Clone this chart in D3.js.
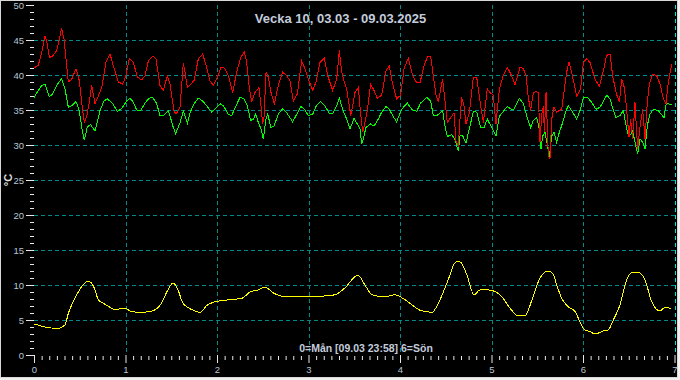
<!DOCTYPE html>
<html><head><meta charset="utf-8">
<script src="https://cdn.jsdelivr.net/npm/d3@7"></script>
<style>
html,body{margin:0;padding:0;background:#f0f0f0;}
svg{display:block;}
text{font-family:"Liberation Sans",Arial,sans-serif;}
</style></head>
<body><svg id="c" width="680" height="380"></svg>
<script>
const title = "Vecka 10, 03.03 - 09.03.2025";
const footer = "0=Mån [09.03 23:58] 6=Sön";
const yLabel = "°C";
const xTicks = [0,1,2,3,4,5,6,7];
const yTicks = [0,5,10,15,20,25,30,35,40,45,50];

// [day, °C]
const redSeries = [[0.000,41.0],[0.047,41.4],[0.084,43.2],[0.120,45.5],[0.138,44.9],[0.168,42.5],[0.204,42.7],[0.248,43.5],[0.277,45.1],[0.302,46.7],[0.328,45.1],[0.350,42.3],[0.375,39.0],[0.412,39.4],[0.459,40.9],[0.495,39.2],[0.521,36.1],[0.550,33.2],[0.576,34.1],[0.605,36.1],[0.630,38.5],[0.667,35.9],[0.703,37.0],[0.740,38.2],[0.787,41.8],[0.831,43.0],[0.867,41.3],[0.922,39.0],[0.969,38.7],[1.005,39.9],[1.042,42.4],[1.086,41.8],[1.129,39.7],[1.177,39.3],[1.213,39.9],[1.250,42.0],[1.297,42.7],[1.333,42.3],[1.377,38.5],[1.413,37.8],[1.457,39.9],[1.486,38.7],[1.530,34.9],[1.552,34.4],[1.596,35.4],[1.632,41.7],[1.650,40.4],[1.676,38.2],[1.705,38.6],[1.749,39.2],[1.796,42.3],[1.843,43.0],[1.887,41.1],[1.923,39.2],[1.960,38.5],[1.996,39.4],[2.044,41.1],[2.080,41.0],[2.124,39.9],[2.171,37.5],[2.215,40.4],[2.259,42.5],[2.299,43.3],[2.324,41.8],[2.353,38.2],[2.379,36.1],[2.415,37.5],[2.459,38.2],[2.477,36.1],[2.499,33.0],[2.514,34.0],[2.536,40.4],[2.561,39.7],[2.590,37.5],[2.627,35.9],[2.670,38.5],[2.718,40.4],[2.761,39.9],[2.798,39.2],[2.834,36.3],[2.878,37.3],[2.925,42.0],[2.962,40.9],[2.998,39.4],[3.046,37.8],[3.082,39.0],[3.126,41.8],[3.173,42.4],[3.210,39.9],[3.264,37.8],[3.308,39.4],[3.337,43.5],[3.363,40.4],[3.388,39.2],[3.417,38.0],[3.440,36.1],[3.460,34.2],[3.483,35.6],[3.508,37.5],[3.545,38.2],[3.563,35.4],[3.592,31.8],[3.617,33.2],[3.643,34.9],[3.679,38.7],[3.716,37.8],[3.752,36.7],[3.800,37.1],[3.847,40.6],[3.883,41.3],[3.920,38.7],[3.963,36.6],[4.007,37.1],[4.044,40.9],[4.091,42.4],[4.138,39.9],[4.182,38.9],[4.219,38.9],[4.262,41.3],[4.302,42.7],[4.335,42.7],[4.364,39.9],[4.393,37.1],[4.419,36.1],[4.444,38.0],[4.466,39.4],[4.492,36.3],[4.517,33.2],[4.554,33.9],[4.590,34.6],[4.612,30.6],[4.638,29.9],[4.656,33.7],[4.674,36.8],[4.699,35.6],[4.721,33.0],[4.758,34.6],[4.801,39.7],[4.838,39.7],[4.874,36.3],[4.911,33.2],[4.954,38.0],[4.984,37.5],[5.020,37.1],[5.049,33.0],[5.086,38.0],[5.129,40.0],[5.173,41.1],[5.220,39.9],[5.257,38.6],[5.311,41.1],[5.348,40.9],[5.377,39.9],[5.402,36.8],[5.428,34.9],[5.457,37.5],[5.486,37.6],[5.512,37.5],[5.530,30.4],[5.548,34.2],[5.567,35.6],[5.578,31.8],[5.596,37.5],[5.621,28.5],[5.639,28.0],[5.658,33.7],[5.683,35.4],[5.712,34.7],[5.767,35.1],[5.792,37.5],[5.821,40.4],[5.847,41.9],[5.876,40.4],[5.931,37.0],[5.974,38.0],[6.004,41.8],[6.040,42.3],[6.077,41.8],[6.131,39.4],[6.179,38.4],[6.222,40.6],[6.259,42.8],[6.295,43.0],[6.324,39.9],[6.361,37.5],[6.397,36.1],[6.423,39.4],[6.452,38.2],[6.477,35.1],[6.503,31.1],[6.521,33.7],[6.543,30.9],[6.568,36.1],[6.597,29.4],[6.623,32.6],[6.652,35.1],[6.678,30.9],[6.703,36.1],[6.725,38.7],[6.761,40.1],[6.805,39.9],[6.842,38.7],[6.878,36.6],[6.907,35.9],[6.933,39.0],[6.970,41.6]];

const greenSeries = [[0.000,36.8],[0.047,37.8],[0.084,38.5],[0.120,38.7],[0.168,36.9],[0.204,37.3],[0.248,38.5],[0.302,39.5],[0.339,38.0],[0.375,35.4],[0.412,35.6],[0.459,36.2],[0.495,34.9],[0.528,32.0],[0.550,30.7],[0.583,32.6],[0.619,32.9],[0.667,32.0],[0.721,34.9],[0.765,36.3],[0.801,36.6],[0.860,35.9],[0.911,34.8],[0.958,35.2],[1.013,36.3],[1.049,36.7],[1.086,36.1],[1.122,35.0],[1.166,34.9],[1.213,36.0],[1.260,36.7],[1.297,36.8],[1.341,35.9],[1.377,34.2],[1.424,34.3],[1.468,34.9],[1.486,34.2],[1.515,32.8],[1.548,31.6],[1.596,33.2],[1.632,34.8],[1.650,34.2],[1.676,33.1],[1.705,34.6],[1.749,35.9],[1.796,36.7],[1.843,36.3],[1.887,35.6],[1.942,34.7],[1.978,35.1],[2.033,35.9],[2.069,35.6],[2.124,34.4],[2.160,34.2],[2.208,35.6],[2.251,36.8],[2.295,36.6],[2.331,35.6],[2.368,33.5],[2.397,33.7],[2.423,34.4],[2.452,33.2],[2.481,32.3],[2.506,30.9],[2.536,33.7],[2.554,34.4],[2.590,32.5],[2.623,32.7],[2.670,34.4],[2.718,35.2],[2.768,34.5],[2.827,33.3],[2.871,34.4],[2.918,35.5],[2.962,35.0],[2.998,34.2],[3.046,34.4],[3.089,35.7],[3.133,36.2],[3.180,35.6],[3.228,34.5],[3.264,34.5],[3.308,35.6],[3.337,36.7],[3.373,35.1],[3.417,33.7],[3.454,32.3],[3.497,33.8],[3.534,33.0],[3.563,32.3],[3.581,30.1],[3.599,30.9],[3.628,32.5],[3.679,33.0],[3.716,32.7],[3.763,33.7],[3.800,34.7],[3.847,35.5],[3.883,35.1],[3.920,34.2],[3.963,33.3],[4.018,35.1],[4.080,36.0],[4.128,35.1],[4.182,34.8],[4.226,36.0],[4.291,36.8],[4.335,36.3],[4.364,34.2],[4.401,34.2],[4.430,34.5],[4.466,34.9],[4.492,32.7],[4.517,31.2],[4.565,31.5],[4.601,30.8],[4.619,29.9],[4.638,29.2],[4.656,31.3],[4.685,31.3],[4.721,30.3],[4.758,32.3],[4.801,34.8],[4.838,34.7],[4.881,32.5],[4.918,32.5],[4.954,33.7],[5.002,32.5],[5.049,31.3],[5.086,34.1],[5.129,34.8],[5.173,35.5],[5.220,35.1],[5.246,35.1],[5.304,36.7],[5.348,35.9],[5.384,34.2],[5.428,32.5],[5.457,33.5],[5.494,33.9],[5.523,32.3],[5.541,29.4],[5.559,31.3],[5.585,31.8],[5.610,30.1],[5.632,28.2],[5.658,31.3],[5.683,31.8],[5.712,30.4],[5.741,31.8],[5.778,33.2],[5.814,34.9],[5.840,35.6],[5.876,34.9],[5.931,33.7],[5.967,34.9],[6.004,36.8],[6.047,36.8],[6.095,36.1],[6.142,35.1],[6.186,35.4],[6.259,37.1],[6.295,36.6],[6.332,34.9],[6.361,33.9],[6.404,34.2],[6.441,34.9],[6.470,32.8],[6.496,31.3],[6.521,31.5],[6.543,32.0],[6.568,30.4],[6.597,28.7],[6.623,30.9],[6.652,30.4],[6.678,29.4],[6.703,32.8],[6.732,34.4],[6.769,35.1],[6.823,34.9],[6.885,33.9],[6.910,35.9],[6.970,35.8]];

const yellowSeries = [[0.000,4.43],[0.066,4.19],[0.156,3.90],[0.266,3.81],[0.339,4.29],[0.375,5.95],[0.448,8.10],[0.521,9.76],[0.583,10.48],[0.620,10.38],[0.667,9.29],[0.703,7.86],[0.757,7.38],[0.831,6.81],[0.885,6.43],[0.958,6.67],[0.995,6.67],[1.068,6.19],[1.158,6.10],[1.268,6.2],[1.377,7.1],[1.464,9.3],[1.519,10.3],[1.574,9.3],[1.628,7.4],[1.760,6.3],[1.814,6.1],[1.891,7.1],[1.978,7.6],[2.142,7.9],[2.273,8.1],[2.361,9.0],[2.448,9.3],[2.525,9.7],[2.612,8.9],[2.721,8.4],[2.907,8.4],[3.126,8.4],[3.290,8.6],[3.399,9.6],[3.541,11.4],[3.617,10.0],[3.694,8.6],[3.836,8.3],[3.945,8.6],[4.055,7.9],[4.219,6.4],[4.350,6.1],[4.437,7.9],[4.525,10.7],[4.612,13.3],[4.656,13.3],[4.732,11.4],[4.809,8.6],[4.874,9.3],[4.962,9.3],[5.049,9.0],[5.126,8.1],[5.202,6.7],[5.290,5.6],[5.366,5.6],[5.443,7.9],[5.530,11.0],[5.621,12.0],[5.669,11.67],[5.713,10.0],[5.767,8.1],[5.839,6.9],[5.913,6.19],[5.967,4.76],[6.011,3.67],[6.077,3.33],[6.131,3.0],[6.222,3.43],[6.276,3.57],[6.331,5.0],[6.404,7.14],[6.470,10.48],[6.532,11.76],[6.608,11.76],[6.678,10.7],[6.751,7.62],[6.842,6.29],[6.896,6.81],[6.958,6.67]];

const svg = d3.select("#c");
svg.append("rect").attr("x",0.5).attr("y",0.5).attr("width",677).attr("height",377)
  .attr("fill","#000").attr("stroke","#d8d8d8").attr("stroke-width",1);

const x = d3.scaleLinear().domain([0,7]).range([34,674.5]);
const y = d3.scaleLinear().domain([0,50]).range([355,5]);

const gridColor = "#008a8a";
// horizontal grid
svg.append("g").selectAll("line").data(yTicks.filter(v=>v>0&&v<50)).join("line")
  .attr("x1",x(0)).attr("x2",x(7)+1)
  .attr("y1",d=>Math.round(y(d))+0.5).attr("y2",d=>Math.round(y(d))+0.5)
  .attr("stroke",gridColor).attr("stroke-dasharray","4,3");
// vertical grid
svg.append("g").selectAll("line").data(xTicks.filter(v=>v>0)).join("line")
  .attr("x1",d=>Math.round(x(d))+0.5).attr("x2",d=>Math.round(x(d))+0.5)
  .attr("y1",y(50)).attr("y2",y(0))
  .attr("stroke",d=>d===7?"#00e0e0":gridColor).attr("stroke-dasharray","4,3");

// Y axis
const yAxis = d3.axisLeft(y).tickValues(d3.range(0,51,1)).tickSize(4).tickFormat(d=> d%5===0? d : "");
const gy = svg.append("g").attr("transform","translate(34,0)").call(yAxis);
gy.select(".domain").remove();
gy.selectAll(".tick line").attr("stroke","#e8e8e8").attr("x2",d=>d%5===0?-8:-4);
gy.selectAll(".tick text").attr("fill","#b8c6d6").attr("font-size",9.5).attr("x",-10)
  .attr("font-family","Liberation Sans, Arial, sans-serif");

// X axis
const xAxis = d3.axisBottom(x).tickValues(d3.range(0,7+1e-9,1/12)).tickSize(4)
  .tickFormat(d=> Math.abs(d-Math.round(d))<1e-6 ? Math.round(d) : "");
const gx = svg.append("g").attr("transform","translate(0,355)").call(xAxis);
gx.select(".domain").remove();
gx.selectAll(".tick line").attr("stroke","#e8e8e8")
  .attr("y1",d=>Math.abs(d-Math.round(d))<1e-6?0:1)
  .attr("y2",d=>Math.abs(d-Math.round(d))<1e-6?8:5);
gx.selectAll(".tick text").attr("fill","#b8c6d6").attr("font-size",9.5).attr("y",11)
  .attr("font-family","Liberation Sans, Arial, sans-serif");

// lines
const line = d3.line().x(d=>x(d[0])).y(d=>y(d[1]));
const smooth = d3.line().x(d=>x(d[0])).y(d=>y(d[1])).curve(d3.curveMonotoneX);
svg.append("path").datum(yellowSeries).attr("d",smooth).attr("fill","none").attr("stroke","#ffff00").attr("stroke-width",1).attr("shape-rendering","crispEdges");
svg.append("path").datum(greenSeries).attr("d",line).attr("fill","none").attr("stroke","#00ff00").attr("stroke-width",1).attr("shape-rendering","crispEdges");
svg.append("path").datum(redSeries).attr("d",line).attr("fill","none").attr("stroke","#ff0000").attr("stroke-width",1).attr("shape-rendering","crispEdges");

// texts
svg.append("text").attr("x",340.5).attr("y",23).attr("text-anchor","middle")
  .attr("font-weight","bold").attr("font-size",13).attr("fill","#c4ccdc").text(title);
svg.append("text").attr("x",366).attr("y",352).attr("text-anchor","middle")
  .attr("font-weight","bold").attr("font-size",10.5).attr("fill","#c4ccdc").text(footer);
svg.append("text").attr("transform","translate(12,180) rotate(-90)").attr("text-anchor","middle")
  .attr("font-weight","bold").attr("font-size",11).attr("fill","#e0e0e0").text(yLabel);
</script></body></html>
